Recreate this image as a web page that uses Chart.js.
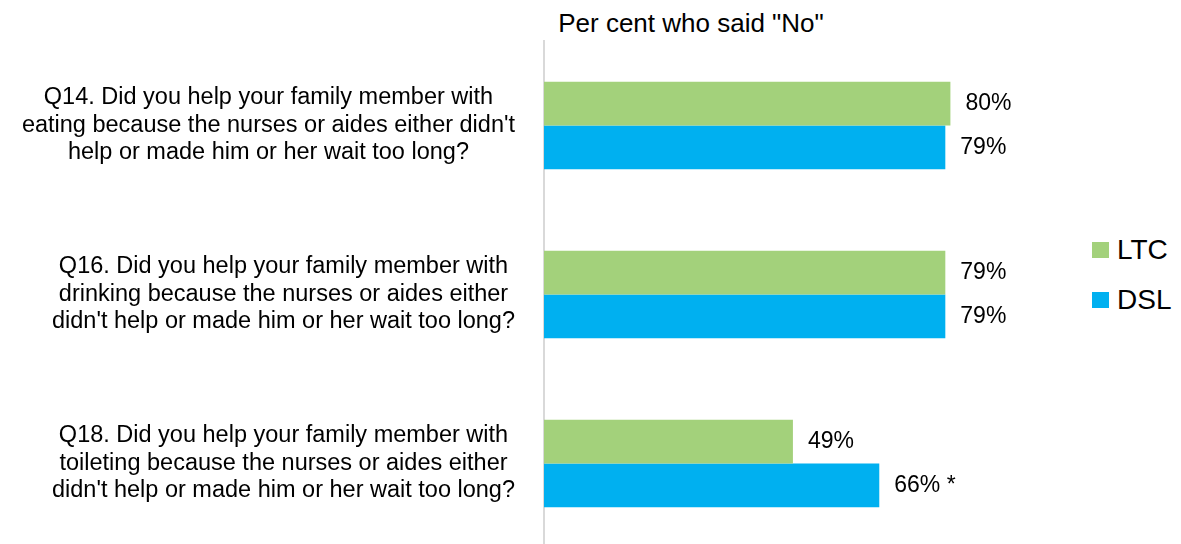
<!DOCTYPE html>
<html>
<head>
<meta charset="utf-8">
<title>Help with eating, drinking and toileting</title>
<script src="https://cdn.jsdelivr.net/npm/chart.js@4.4.0/dist/chart.umd.min.js"></script>
<style>
    html, body { margin: 0; padding: 0; background: #fff; overflow: hidden; }
    .wrap { position: relative; width: 1181px; height: 548px; font-family: "Liberation Sans", Arial, sans-serif; color: #000; }
    .title { position: absolute; top: 8px; left: 491px; width: 400px; text-align: center; font-size: 26px; line-height: 30px; }
    .legend { position: absolute; left: 1092px; top: 232px; font-size: 28px; }
    .legend div { height: 50px; line-height: 36px; }
    .legend span { display: inline-block; width: 17px; height: 16px; margin-right: 8px; vertical-align: 1px; }
    canvas { position: absolute; left: 0; top: 0; }
</style>
</head>
<body>
<div class="wrap">
    <div class="title">Per cent who said "No"</div>
    <div class="legend" id="legend"></div>
    <canvas id="noChart" width="1181" height="548"></canvas>
</div>
<script>
const questions = [
    ['Q14. Did you help your family member with', "eating because the nurses or aides either didn't", 'help or made him or her wait too long?'],
    ['Q16. Did you help your family member with', 'drinking because the nurses or aides either', "didn't help or made him or her wait too long?"],
    ['Q18. Did you help your family member with', 'toileting because the nurses or aides either', "didn't help or made him or her wait too long?"]
];
const seriesNames = ['LTC', 'DSL'];
const ltcValues = [80, 79, 49];
const dslValues = [79, 79, 66];
// asterisk marks a significant difference
const ltcNotes = ['', '', ''];
const dslNotes = ['', '', ' *'];
const colors = ['#A3D17B', '#00B0F0'];

const FONT = '"Liberation Sans", Arial, sans-serif';
const LABEL_RIGHT = 515;
const LINE_H = 27.5;

// question text on the left and value labels past the bar ends
const textPlugin = {
    id: 'textLabels',
    afterDatasetsDraw(chart) {
        const ctx = chart.ctx;
        const yScale = chart.scales.y;
        ctx.save();
        ctx.fillStyle = '#000';
        ctx.textBaseline = 'middle';
        ctx.font = '23.5px ' + FONT;
        ctx.textAlign = 'center';
        questions.forEach((lines, i) => {
            const y = yScale.getPixelForTick(i);
            const widest = Math.max(...lines.map(l => ctx.measureText(l).width));
            const cx = LABEL_RIGHT - widest / 2;
            lines.forEach((line, j) => {
                ctx.fillText(line, cx, y + (j - (lines.length - 1) / 2) * LINE_H);
            });
        });

        const notes = [ltcNotes, dslNotes];
        ctx.font = '23px ' + FONT;
        ctx.textAlign = 'left';
        chart.data.datasets.forEach((ds, di) => {
            chart.getDatasetMeta(di).data.forEach((bar, i) => {
                ctx.fillText(ds.data[i] + '%' + notes[di][i], bar.x + 15, bar.y);
            });
        });
        ctx.restore();
    }
};

const ctx = document.getElementById('noChart');
new Chart(ctx, {
    type: 'bar',
    data: {
        labels: questions,
        datasets: [
            { label: seriesNames[0], data: ltcValues, backgroundColor: colors[0] },
            { label: seriesNames[1], data: dslValues, backgroundColor: colors[1] }
        ]
    },
    options: {
        indexAxis: 'y',
        responsive: false,
        animation: false,
        layout: { padding: { top: 41, right: 129, bottom: 0, left: 0 } },
        datasets: {
            bar: { categoryPercentage: 0.517, barPercentage: 1.0 }
        },
        scales: {
            x: { display: false, min: 0, max: 100 },
            y: {
                grid: { display: false },
                border: { display: true, color: '#d9d9d9', width: 2 },
                ticks: { display: false },
                afterFit(scale) { scale.width = 544; }
            }
        },
        plugins: {
            legend: { display: false },
            tooltip: { enabled: false }
        }
    },
    plugins: [textPlugin]
});

// legend
const legend = document.getElementById('legend');
seriesNames.forEach((name, i) => {
    const row = document.createElement('div');
    row.innerHTML = '<span style="background:' + colors[i] + '"></span>' + name;
    legend.appendChild(row);
});
</script>
</body>
</html>
